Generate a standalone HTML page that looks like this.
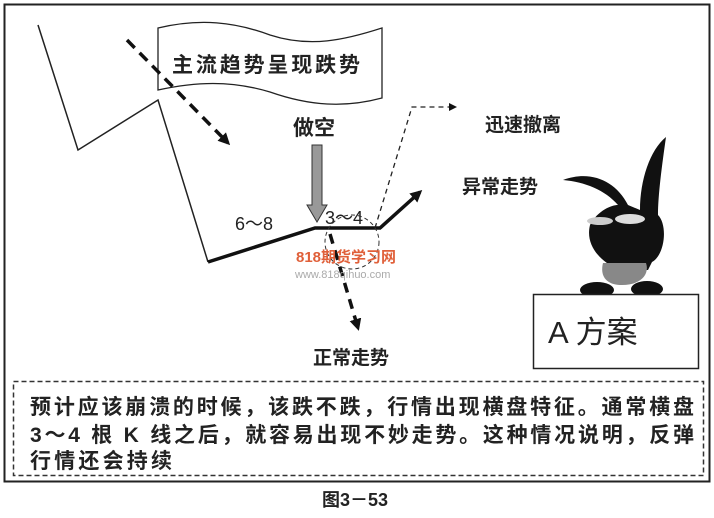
<!DOCTYPE html>
<html><head><meta charset="utf-8"><style>
html,body{margin:0;padding:0;background:#fff;}
svg{display:block;}
text{font-family:"Liberation Sans","Noto Sans CJK SC",sans-serif;}
</style></head><body>
<svg width="714" height="518" viewBox="0 0 714 518" xmlns="http://www.w3.org/2000/svg">
<defs>
<marker id="ah" markerWidth="8" markerHeight="8" refX="6" refY="4" orient="auto" markerUnits="userSpaceOnUse"><path d="M0,0 L8,4 L0,8 z" fill="#111"/></marker>
<marker id="ah2" markerWidth="12" markerHeight="12" refX="9" refY="6" orient="auto" markerUnits="userSpaceOnUse"><path d="M0,0 L12,6 L0,12 z" fill="#111"/></marker>
</defs>
<rect x="4.5" y="4.5" width="705" height="477" fill="none" stroke="#222" stroke-width="2"/>
<path d="M158,28 C200,18 235,22 270,35 C310,48 345,40 382,28 L382,98 C345,108 310,106 270,92 C230,80 195,82 158,90 Z" fill="#fff" stroke="#222" stroke-width="1.3"/>
<text x="172" y="72" font-size="21" font-weight="bold" fill="#222" textLength="188">主流趋势呈现跌势</text>
<polyline points="38,25 78,150 158,100 208,262" fill="none" stroke="#222" stroke-width="1.5"/>
<polyline points="208,262 315,228 380,228 420,192" fill="none" stroke="#111" stroke-width="3.5" marker-end="url(#ah2)"/>
<line x1="127" y1="40" x2="228" y2="143" stroke="#111" stroke-width="3.5" stroke-dasharray="11,7" marker-end="url(#ah2)"/>
<text x="293" y="135" font-size="21" font-weight="bold" fill="#222">做空</text>
<path d="M312,145 L322,145 L322,205 L327,205 L317,222 L307,205 L312,205 Z" fill="#999" stroke="#333" stroke-width="1"/>
<text x="235" y="230" font-size="18" fill="#222">6～8</text>
<text x="325" y="224" font-size="18" fill="#222">3～4</text>
<circle cx="352" cy="242" r="27" fill="none" stroke="#333" stroke-width="1" stroke-dasharray="4,3"/>
<polyline points="375,228 412,107 455,107" fill="none" stroke="#222" stroke-width="1.3" stroke-dasharray="5,4" marker-end="url(#ah)"/>
<line x1="330" y1="234" x2="358" y2="328" stroke="#111" stroke-width="3.5" stroke-dasharray="10,7" marker-end="url(#ah2)"/>
<text x="485" y="131" font-size="19" font-weight="bold" fill="#222">迅速撤离</text>
<text x="462" y="193" font-size="19" font-weight="bold" fill="#222">异常走势</text>
<text x="313" y="364" font-size="19" font-weight="bold" fill="#222">正常走势</text>
<text x="296" y="262" font-size="15" font-weight="bold" fill="#e0603a">818期货学习网</text>
<text x="295" y="278" font-size="11" fill="#aaa">www.818qihuo.com</text>
<path d="M563,180 C590,170 615,180 628,205 L640,210 C640,180 650,150 666,137 C662,165 658,195 658,215 C668,225 665,255 652,262 L648,270 L620,270 C600,262 585,245 590,225 C598,210 612,205 618,205 C605,190 585,182 563,180 Z" fill="#111"/>
<ellipse cx="600" cy="221" rx="13" ry="4" fill="#ccc"/>
<ellipse cx="630" cy="219" rx="15" ry="5" fill="#ddd"/>
<path d="M603,263 C600,275 605,285 622,285 C640,285 650,275 646,263 Z" fill="#888"/>
<ellipse cx="597" cy="290" rx="17" ry="8" fill="#111"/>
<ellipse cx="647" cy="289" rx="16" ry="8" fill="#111"/>
<rect x="533.5" y="294.5" width="165" height="74" fill="#fff" stroke="#222" stroke-width="1.5"/>
<text x="548" y="343" font-size="31" fill="#222">A 方案</text>
<rect x="13.5" y="381.5" width="690" height="94" fill="none" stroke="#333" stroke-width="1.5" stroke-dasharray="5,3"/>
<text x="30" y="414" font-size="21" font-weight="bold" fill="#222" textLength="664">预计应该崩溃的时候，该跌不跌，行情出现横盘特征。通常横盘</text>
<text x="30" y="442" font-size="21" font-weight="bold" fill="#222" textLength="664">3～4 根 K 线之后，就容易出现不妙走势。这种情况说明，反弹</text>
<text x="30" y="468" font-size="21" font-weight="bold" fill="#222" textLength="142">行情还会持续</text>
<text x="322" y="506" font-size="18" font-weight="bold" fill="#222">图3－53</text>
</svg>
</body></html>
